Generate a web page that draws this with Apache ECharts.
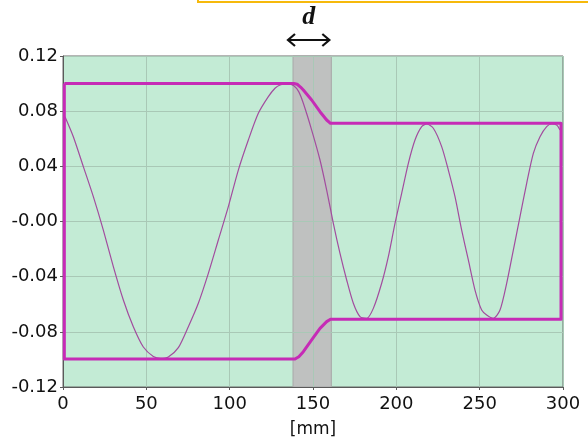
<!DOCTYPE html>
<html>
<head>
<meta charset="utf-8">
<script src="https://cdn.jsdelivr.net/npm/echarts@6/dist/echarts.min.js"></script>
<style>
html,body{margin:0;padding:0;background:#fff;}
#c{width:588px;height:444px;}
</style>
</head>
<body>
<div id="c"></div>
<script>
// ---- data ----
const xTicks = [0, 50, 100, 150, 200, 250, 300];
const yTickLabels = ['-0.12', '-0.08', '-0.04', '-0.00', '0.04', '0.08', '0.12'];
const bandRange = [138, 161];           // grey zone "d" [mm]

// envelope (closed outline), [mm, value]
const envelopeTop = [[0.8, 0.100], [138.5, 0.100], [140.5, 0.0995], [142.5, 0.0975], [144.2, 0.0953], [149.2, 0.0881],
  [154.2, 0.0796], [158.2, 0.0736], [160.5, 0.0712], [298.8, 0.0712]];
const envelopeBottom = [[298.8, -0.0709], [160.5, -0.0709], [158.2, -0.0726], [154.2, -0.0775], [149.2, -0.0859],
  [144.2, -0.0944], [141.5, -0.0980], [139.2, -0.0997], [0.8, -0.0997], [0.8, 0.100]];

// oscillating signal, [mm, value]
const signal = [
  [1.2, 0.0760], [6.2, 0.0615], [12.2, 0.0398], [18.2, 0.0180], [24.2, -0.0062], [30.2, -0.0327],
  [36.2, -0.0569], [42.2, -0.0763], [48.2, -0.0910], [54.2, -0.0978], [58.5, -0.0992], [63.2, -0.0982],
  [69.2, -0.0915], [75.2, -0.0763], [81.2, -0.0593], [87.2, -0.0376], [93.2, -0.0134], [99.2, 0.0108],
  [105.2, 0.0373], [111.2, 0.0591], [117.2, 0.0784], [123.2, 0.0905], [127.2, 0.0966], [130.2, 0.0990],
  [134.5, 0.1000], [138.5, 0.0985], [141.5, 0.0940], [144.2, 0.0857], [149.2, 0.0663], [154.2, 0.0446],
  [158.2, 0.0228], [162.2, -0.0013], [166.2, -0.0231], [170.2, -0.0424], [174.2, -0.0593], [178.2, -0.0690],
  [182.2, -0.0702], [186.2, -0.0630], [191.2, -0.0448], [195.2, -0.0255], [199.2, -0.0013], [203.2, 0.0204],
  [207.2, 0.0422], [211.2, 0.0591], [215.2, 0.0688], [218.2, 0.0707], [222.2, 0.0676], [227.2, 0.0543],
  [231.2, 0.0373], [235.2, 0.0180], [239.2, -0.0062], [243.2, -0.0279], [247.2, -0.0497], [251.2, -0.0642],
  [254.2, -0.0678], [258.2, -0.0702], [262.2, -0.0642], [266.2, -0.0448], [270.2, -0.0207], [274.2, 0.0035],
  [278.2, 0.0277], [282.2, 0.0494], [286.2, 0.0615], [290.2, 0.0688], [293.2, 0.0707], [296.2, 0.0700],
  [298.2, 0.0663]
];

const chart = echarts.init(document.getElementById('c'), null, {renderer: 'canvas'});
const font = '"DejaVu Sans", Arial, sans-serif';
const axisCommon = {
  z: 3,
  axisLine: {show: true, onZero: false, lineStyle: {color: '#5a5a5a', width: 1}},
  axisTick: {show: true, length: 3, inside: false, lineStyle: {color: '#5a5a5a'}},
  splitLine: {show: true, lineStyle: {color: '#a9c8b6', width: 1}},
  axisLabel: {color: '#111', fontSize: 18, fontFamily: font}
};
chart.setOption({
  animation: false,
  backgroundColor: '#ffffff',
  grid: {left: 63, right: 25, top: 56, bottom: 57, show: true, backgroundColor: '#c3ebd5', borderColor: '#6a6a6a', borderWidth: 1},
  xAxis: Object.assign({}, axisCommon, {
    type: 'value', min: xTicks[0], max: xTicks[xTicks.length - 1], interval: 50,
    name: '[mm]', nameLocation: 'middle', nameGap: 34,
    nameTextStyle: {color: '#111', fontSize: 17, fontFamily: font},
    axisLabel: Object.assign({}, axisCommon.axisLabel, {margin: 8})
  }),
  yAxis: Object.assign({}, axisCommon, {
    type: 'value', min: -0.12, max: 0.12, interval: 0.04,
    axisLabel: Object.assign({}, axisCommon.axisLabel, {margin: 5,
      formatter: (v) => yTickLabels[Math.round((v + 0.12) / 0.04)]})
  }),
  series: [
    {
      type: 'line', z: 1, data: [], silent: true,
      markArea: {silent: true, itemStyle: {color: 'rgba(190,190,190,0.94)', borderColor: '#a8a8a8', borderWidth: 1},
        data: [[{xAxis: bandRange[0]}, {xAxis: bandRange[1]}]]}
    },
    {
      type: 'line', z: 5, data: signal, showSymbol: false, smooth: 0.25,
      lineStyle: {color: '#a24c9e', width: 1.2}
    },
    {
      type: 'line', z: 6, data: envelopeTop.concat(envelopeBottom), showSymbol: false, smooth: false,
      lineStyle: {color: '#c62bb6', width: 3, join: 'round'}
    }
  ]
});

// annotation "d" and double arrow over the grey band
const p0 = chart.convertToPixel({gridIndex: 0}, [bandRange[0], 0.12]);
const p1 = chart.convertToPixel({gridIndex: 0}, [bandRange[1], 0.12]);
const ay = p0[1] - 16;
const ax0 = p0[0] - 6, ax1 = p1[0] - 1;
chart.setOption({
  graphic: [
    {type: 'rect', shape: {x: 198, y: -10, width: 420, height: 12}, style: {fill: 'none', stroke: '#f6b90c', lineWidth: 2}},
    {type: 'text', style: {text: 'd', x: (ax0 + ax1) / 2, y: 17, align: 'center', verticalAlign: 'middle',
      font: 'italic bold 26px "Liberation Serif", "DejaVu Serif", serif', fill: '#111'}},
    {type: 'line', shape: {x1: ax0 + 2, y1: ay, x2: ax1 - 2, y2: ay}, style: {stroke: '#111', lineWidth: 2}},
    {type: 'polyline', shape: {points: [[ax0 + 8, ay - 6], [ax0 + 1, ay], [ax0 + 8, ay + 6]]}, style: {stroke: '#111', lineWidth: 2.2, fill: 'none'}},
    {type: 'polyline', shape: {points: [[ax1 - 8, ay - 6], [ax1 - 1, ay], [ax1 - 8, ay + 6]]}, style: {stroke: '#111', lineWidth: 2.2, fill: 'none'}}
  ]
});
</script>
</body>
</html>
